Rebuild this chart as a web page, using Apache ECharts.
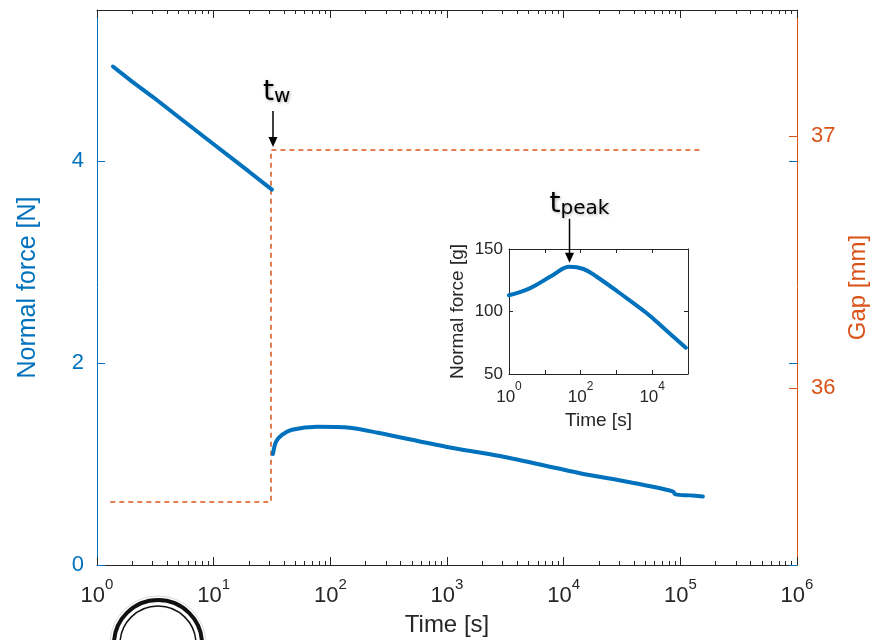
<!DOCTYPE html>
<html>
<head>
<meta charset="utf-8">
<script src="https://cdn.jsdelivr.net/npm/echarts@6/dist/echarts.min.js"></script>
<style>
  html, body { margin: 0; padding: 0; background: #ffffff; }
  #chart { width: 874px; height: 640px; }
</style>
</head>
<body>
<div id="chart"></div>
<script>
// Normal force [N] before the gap change (time in s)
const forceTimeBefore = [1.37, 2, 3, 5, 10, 20, 31.6];
const forceBefore = [4.94, 4.79, 4.64, 4.44, 4.17, 3.90, 3.72];

// Normal force [N] after the gap change
const forceTimeAfter = [32.2, 34.2, 38.5, 46.9, 76.8, 147, 256, 1000, 2850, 13800, 37000, 86000, 91000, 120000, 156000];
const forceAfter = [1.10, 1.22, 1.29, 1.34, 1.37, 1.36, 1.31, 1.17, 1.08, 0.91, 0.82, 0.73, 0.70, 0.69, 0.68];

// Gap [mm]
const gapTime = [1.3, 31, 31, 150000];
const gapValue = [35.55, 35.55, 36.945, 36.945];

// Inset: normal force [g] against time since the gap change
const insetTime = [1, 3.8, 16.6, 49, 120, 275, 1200, 6800, 24500, 87000];
const insetForce = [113, 118.5, 129, 135.8, 134, 128, 115, 99, 85, 71];

// Tick values
const timeDecades = [1, 10, 100, 1000, 10000, 100000, 1000000];
const forceTicks = [0, 2, 4];
const gapTicks = [36, 37];
const insetTimeDecades = [1, 10, 100, 1000, 10000, 100000];
const insetTimeLabels = [1, 100, 10000];
const insetForceTicks = [50, 100, 150];

const BLUE = '#0072BD';
const ORANGE = '#D95319';
const DARK = '#262626';
const FONT = 'Liberation Sans';

// minor log ticks 2..9 within each decade
const timeMinor = [];
for (let i = 0; i < timeDecades.length - 1; i++) {
  for (let m = 2; m <= 9; m++) timeMinor.push(timeDecades[i] * m);
}

const pairs = (xs, ys) => xs.map((x, i) => [x, ys[i]]);
const powLabel = v => '{b|10}{e|' + Math.round(Math.log10(v)) + '}';

function logRich(base, sup) {
  return {
    b: { fontSize: base, fontFamily: FONT, color: DARK, lineHeight: base + 8, verticalAlign: 'bottom' },
    e: { fontSize: sup, fontFamily: FONT, color: DARK, lineHeight: sup, verticalAlign: 'top' }
  };
}

const chart = echarts.init(document.getElementById('chart'), null, { renderer: 'canvas' });

const mainX = (extra) => Object.assign({
  gridIndex: 0, type: 'log', logBase: 10, min: 1, max: 1000000,
  splitLine: { show: false }, minorTick: { show: false }
}, extra);

const insetX = (extra) => Object.assign({
  gridIndex: 1, type: 'log', logBase: 10, min: 1, max: 100000,
  splitLine: { show: false }
}, extra);

const option = {
  backgroundColor: '#ffffff',
  animation: false,
  grid: [
    { left: 97, right: 77, top: 10, bottom: 75, outerBoundsMode: 'none', containLabel: false },
    { left: 509, top: 249, width: 179, height: 125, outerBoundsMode: 'none', containLabel: false,
      show: true, backgroundColor: '#ffffff', borderWidth: 0 }
  ],
  xAxis: [
    mainX({
      position: 'bottom',
      axisLine: { show: true, lineStyle: { color: DARK, width: 1 } },
      axisTick: { show: true, inside: true, length: 8, customValues: timeDecades, lineStyle: { color: DARK } },
      axisLabel: { show: true, customValues: timeDecades, formatter: powLabel, margin: 12, rich: logRich(22, 15) },
      name: 'Time [s]', nameLocation: 'middle', nameGap: 48,
      nameTextStyle: { fontSize: 24, fontFamily: FONT, color: DARK }
    }),
    mainX({
      position: 'bottom',
      axisLine: { show: false },
      axisTick: { show: true, inside: true, length: 4, customValues: timeMinor, lineStyle: { color: DARK } },
      axisLabel: { show: false }
    }),
    mainX({
      position: 'top',
      axisLine: { show: true, lineStyle: { color: DARK, width: 1 } },
      axisTick: { show: true, inside: true, length: 8, customValues: timeDecades, lineStyle: { color: DARK } },
      axisLabel: { show: false }
    }),
    mainX({
      position: 'top',
      axisLine: { show: false },
      axisTick: { show: true, inside: true, length: 4, customValues: timeMinor, lineStyle: { color: DARK } },
      axisLabel: { show: false }
    }),
    insetX({
      position: 'bottom',
      axisLine: { show: true, lineStyle: { color: DARK, width: 1 } },
      axisTick: { show: true, inside: true, length: 4, customValues: insetTimeDecades, lineStyle: { color: DARK } },
      axisLabel: { show: true, customValues: insetTimeLabels, formatter: powLabel, margin: 7, rich: logRich(17, 12) },
      name: 'Time [s]', nameLocation: 'middle', nameGap: 37,
      nameTextStyle: { fontSize: 19, fontFamily: FONT, color: DARK }
    }),
    insetX({
      position: 'top',
      axisLine: { show: true, lineStyle: { color: DARK, width: 1 } },
      axisTick: { show: true, inside: true, length: 4, customValues: insetTimeDecades, lineStyle: { color: DARK } },
      axisLabel: { show: false }
    })
  ],
  yAxis: [
    {
      gridIndex: 0, type: 'value', position: 'left', min: 0, max: 5.5,
      splitLine: { show: false },
      axisLine: { show: true, lineStyle: { color: BLUE, width: 1 } },
      axisTick: { show: true, inside: true, length: 8, customValues: forceTicks, lineStyle: { color: BLUE } },
      axisLabel: { show: true, customValues: forceTicks, margin: 13, fontSize: 22, fontFamily: FONT, color: BLUE },
      name: 'Normal force [N]', nameLocation: 'middle', nameGap: 56, nameRotate: 90,
      nameTextStyle: { fontSize: 25, fontFamily: FONT, color: BLUE }
    },
    {
      gridIndex: 0, type: 'value', position: 'right', min: 35.3, max: 37.5,
      splitLine: { show: false },
      axisLine: { show: true, lineStyle: { color: ORANGE, width: 1 } },
      axisTick: { show: true, inside: true, length: 8, customValues: gapTicks, lineStyle: { color: ORANGE } },
      axisLabel: { show: true, customValues: gapTicks, margin: 14, fontSize: 22, fontFamily: FONT, color: ORANGE },
      name: 'Gap [mm]', nameLocation: 'middle', nameGap: 44, nameRotate: 90,
      nameTextStyle: { fontSize: 24, fontFamily: FONT, color: ORANGE }
    },
    {
      gridIndex: 0, type: 'value', position: 'right', min: 0, max: 5.5,
      splitLine: { show: false },
      axisLine: { show: false },
      axisTick: { show: true, inside: true, length: 8, customValues: forceTicks, lineStyle: { color: BLUE } },
      axisLabel: { show: false }
    },
    {
      gridIndex: 1, type: 'value', position: 'left', min: 50, max: 150,
      splitLine: { show: false },
      axisLine: { show: true, lineStyle: { color: DARK, width: 1 } },
      axisTick: { show: true, inside: true, length: 4, customValues: insetForceTicks, lineStyle: { color: DARK } },
      axisLabel: { show: true, customValues: insetForceTicks, margin: 6, fontSize: 17, fontFamily: FONT, color: DARK },
      name: 'Normal force [g]', nameLocation: 'middle', nameGap: 42, nameRotate: 90,
      nameTextStyle: { fontSize: 19, fontFamily: FONT, color: DARK }
    },
    {
      gridIndex: 1, type: 'value', position: 'right', min: 50, max: 150,
      splitLine: { show: false },
      axisLine: { show: true, lineStyle: { color: DARK, width: 1 } },
      axisTick: { show: true, inside: true, length: 4, customValues: insetForceTicks, lineStyle: { color: DARK } },
      axisLabel: { show: false }
    }
  ],
  series: [
    {
      name: 'Gap', type: 'line', xAxisIndex: 0, yAxisIndex: 1,
      data: pairs(gapTime, gapValue), showSymbol: false, symbol: 'none',
      lineStyle: { color: ORANGE, width: 1.5, type: [5, 4] }, z: 2
    },
    {
      name: 'Force before', type: 'line', xAxisIndex: 0, yAxisIndex: 0,
      data: pairs(forceTimeBefore, forceBefore), showSymbol: false, symbol: 'none',
      lineStyle: { color: BLUE, width: 4, cap: 'round' }, z: 3
    },
    {
      name: 'Force after', type: 'line', xAxisIndex: 0, yAxisIndex: 0,
      data: pairs(forceTimeAfter, forceAfter), showSymbol: false, symbol: 'none', smooth: 0.3,
      lineStyle: { color: BLUE, width: 4, cap: 'round' }, z: 3
    },
    {
      name: 'Inset force', type: 'line', xAxisIndex: 4, yAxisIndex: 3,
      data: pairs(insetTime, insetForce), showSymbol: false, symbol: 'none', smooth: 0.4,
      lineStyle: { color: BLUE, width: 4, cap: 'round' }, z: 3
    }
  ]
};

chart.setOption(option);

// Arrow annotations placed from data coordinates
function arrowGroup(tip, len, main, sub, textDx, textDy) {
  const shadow = { textShadowColor: 'rgba(0,0,0,0.35)', textShadowBlur: 3, textShadowOffsetX: 1, textShadowOffsetY: 1 };
  return [
    { type: 'line', shape: { x1: tip[0], y1: tip[1] - len, x2: tip[0], y2: tip[1] - 8 },
      style: { stroke: '#000', lineWidth: 1.5 }, z: 100 },
    { type: 'polygon', shape: { points: [[tip[0] - 4.5, tip[1] - 10], [tip[0] + 4.5, tip[1] - 10], [tip[0], tip[1]]] },
      style: { fill: '#000' }, z: 100 },
    { type: 'text', x: tip[0] + textDx, y: tip[1] - len + textDy, z: 100,
      style: Object.assign({
        text: '{t|' + main + '}{s|' + sub + '}',
        textAlign: 'left', textVerticalAlign: 'bottom',
        rich: {
          t: { fontSize: 28, fontFamily: 'DejaVu Sans', fill: '#000', lineHeight: 30, verticalAlign: 'bottom' },
          s: { fontSize: 20, fontFamily: 'DejaVu Sans', fill: '#000', lineHeight: 18, verticalAlign: 'bottom' }
        }
      }, shadow) }
  ];
}

const twTip = chart.convertToPixel({ xAxisIndex: 0, yAxisIndex: 1 }, [gapTime[2], gapValue[2]]);
const peakIdx = insetForce.indexOf(Math.max.apply(null, insetForce));
const peakTip = chart.convertToPixel({ xAxisIndex: 4, yAxisIndex: 3 }, [insetTime[peakIdx], insetForce[peakIdx]]);

// institute seal, partly cut by the bottom edge
const logo = [
  { type: 'circle', shape: { cx: 158, cy: 644, r: 44 }, style: { fill: 'none', stroke: '#111', lineWidth: 4 } },
  { type: 'circle', shape: { cx: 158, cy: 644, r: 38 }, style: { fill: 'none', stroke: '#111', lineWidth: 1.5 } },
  { type: 'circle', shape: { cx: 158, cy: 644, r: 48 }, style: { fill: 'none', stroke: 'rgba(0,0,0,0.15)', lineWidth: 1 } }
];

chart.setOption({
  graphic: [].concat(
    arrowGroup([twTip[0] + 2, twTip[1] - 3], 36, 't', 'w', -10, -4),
    arrowGroup([peakTip[0], peakTip[1] - 4], 44, 't', 'peak', -20, 0),
    logo
  )
});
</script>
</body>
</html>
